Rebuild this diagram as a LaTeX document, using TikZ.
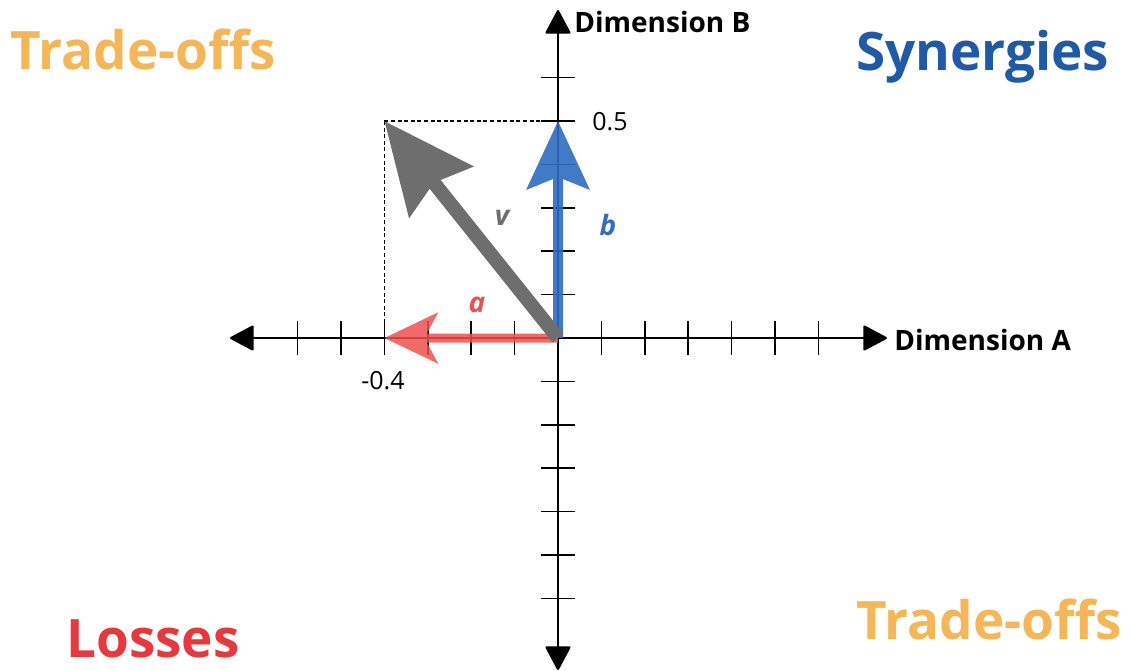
\documentclass[tikz,border=0pt]{standalone}
\usepackage{fontspec}
\setmainfont{Open Sans}
\usetikzlibrary{arrows.meta}
\definecolor{tradeC}{HTML}{F6B656}
\definecolor{synC}{HTML}{1F5AA8}
\definecolor{lossC}{HTML}{E8383D}
\definecolor{vecA}{HTML}{F04F4F}
\definecolor{vecB}{HTML}{2F6CC2}
\definecolor{vecV}{HTML}{6E6E6E}
\begin{document}
\begin{tikzpicture}[x=0.5pt,y=-0.5pt,
  axis/.style={line width=1.1pt, {Triangle[length=12.5pt,width=13pt,round]}-{Triangle[length=12.5pt,width=13pt,round]}},
  tickline/.style={line width=0.8pt},
  guide/.style={line width=0.6pt, dash pattern=on 2pt off 1.3pt},
  quad/.style={font=\fontsize{26.5}{32}\selectfont\bfseries, anchor=base west, inner sep=0pt},
  dimlab/.style={font=\fontsize{14}{17}\selectfont\bfseries, anchor=west, inner sep=0pt},
  numlab/.style={font=\fontsize{12.5}{15}\selectfont, inner sep=0pt},
  veclab/.style={font=\fontsize{14}{17}\selectfont\bfseries\itshape, inner sep=0pt}]
\useasboundingbox (0,0) rectangle (1130,670);
% coordinates
\coordinate (O) at (558,338);
\coordinate (xl) at (230,338);
\coordinate (xr) at (887,338);
\coordinate (yt) at (558,10);
\coordinate (yb) at (558,670);
\coordinate (A) at (384.4,338);
\coordinate (B) at (558,121);
\coordinate (V) at (384.4,121);
% axes
\draw[axis] (xl) -- (xr);
\draw[axis] (yb) -- (yt);
\foreach \k in {-6,-5,-4,-3,-2,-1,1,2,3,4,5,6}{
  \draw[tickline] ({558+43.4*\k},321) -- ({558+43.4*\k},355);
  \draw[tickline] (541,{338-43.4*\k}) -- (575,{338-43.4*\k});
}
% guides
\draw[guide] (V) -- (A);
\draw[guide] (V) -- (B);
% vectors
\begin{scope}[transparency group, opacity=0.85]
\draw[vecA, line width=4.5pt, -{Stealth[length=26.5pt,width=25pt,inset=6.5pt]}] (O) -- (A);
\end{scope}
\begin{scope}[transparency group, opacity=0.9]
\draw[vecB, line width=5pt, -{Stealth[length=34pt,width=31pt,inset=6pt]}] (O) -- (B);
\end{scope}
\draw[vecV, line width=7pt, -{Stealth[length=45pt,width=40pt,inset=5.5pt]}] (O) -- (V);
% labels
\node[veclab, text=vecA] (la) at (477,305) {a};
\node[veclab, text=vecB] (lb) at (608,225) {b};
\node[veclab, text=vecV] (lv) at (502,218) {v};
\node[numlab, anchor=west] (l05) at (592,122) {0.5};
\node[numlab] (l04) at (383,381) {-0.4};
\node[dimlab] (dA) at (894,340) {Dimension A};
\node[dimlab] (dB) at (574,22) {Dimension B};
\node[quad, text=tradeC] (q1) at (10,69) {Trade-offs};
\node[quad, text=synC] (q2) at (856,70) {Synergies};
\node[quad, text=lossC] (q3) at (66,657) {Losses};
\node[quad, text=tradeC] (q4) at (856,639) {Trade-offs};
\end{tikzpicture}
\end{document}
